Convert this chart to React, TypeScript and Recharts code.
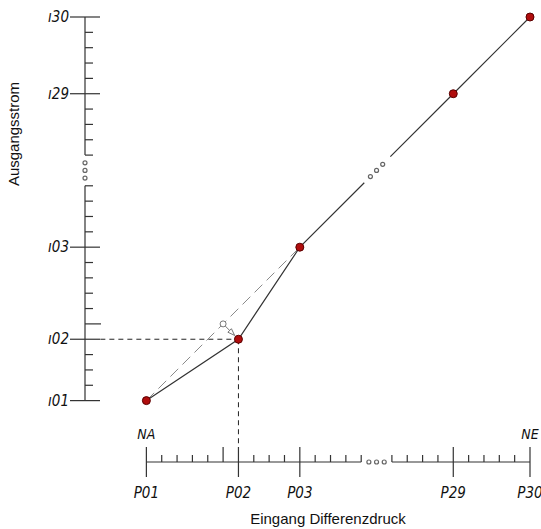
import { ComposedChart, Line, Scatter, XAxis, YAxis } from 'recharts';

// Schematic: Eingang Differenzdruck (P01..P30) -> Ausgangsstrom (ı01..ı30)
const xMajorTicks = [0, 6, 10, 20, 25];
const xMajorLabels = ['P01', 'P02', 'P03', 'P29', 'P30'];
const yMajorTicks = [0, 4, 10, 20, 25];
const yMajorLabels = ['ı01', 'ı02', 'ı03', 'ı29', 'ı30'];
const scaleTicks = [0, 1, 2, 3, 4, 5, 6, 7, 8, 9, 10, 11, 12, 13, 14, 16, 17, 18, 19, 20, 21, 22, 23, 24, 25];
const longTicks = [5];
const rangeStart = 'NA';
const rangeEnd = 'NE';

const curvePoints = [
  { x: 0, y: 0 },
  { x: 6, y: 4 },
  { x: 10, y: 10 },
  { x: 20, y: 20 },
  { x: 25, y: 25 },
];
// curve with a break in the middle (between P03 and P29)
const curveLine = [
  { x: 0, y: 0 },
  { x: 6, y: 4 },
  { x: 10, y: 10 },
  { x: 14.2, y: 14.2 },
  { x: 15, y: null },
  { x: 15.9, y: 15.9 },
  { x: 20, y: 20 },
  { x: 25, y: 25 },
];
const linearLine = [
  { x: 0, y: 0 },
  { x: 10, y: 10 },
];
const dropH = [
  { x: -3, y: 4 },
  { x: 6, y: 4 },
];
const dropV = [
  { x: 6, y: 4 },
  { x: 6, y: -3 },
];
const deviationArrow = [
  { x: 5, y: 5 },
  { x: 5.75, y: 4.25 },
];
const curveGapDots = [
  { x: 14.6, y: 14.6 },
  { x: 15, y: 15 },
  { x: 15.4, y: 15.4 },
];
const yAxisLine = [
  { x: -4, y: 0 },
  { x: -4, y: 14 },
  { x: -4, y: null },
  { x: -4, y: 16 },
  { x: -4, y: 25 },
];
const xAxisLine = [
  { x: 0, y: -4 },
  { x: 14, y: -4 },
  { x: 15, y: null },
  { x: 16, y: -4 },
  { x: 25, y: -4 },
];
const axisGapDots = [
  { x: -4, y: 14.5 },
  { x: -4, y: 15 },
  { x: -4, y: 15.5 },
  { x: 14.5, y: -4 },
  { x: 15, y: -4 },
  { x: 15.5, y: -4 },
];

const INK = '#333';
const labelFont = "'Liberation Sans Narrow', 'DejaVu Sans Condensed', 'Liberation Sans', sans-serif";

function YTick(props: any) {
  const { x, y, payload } = props;
  const i = yMajorTicks.indexOf(payload.value);
  if (i >= 0) {
    return (
      <g>
        <line x1={x - 15} x2={x + 15} y1={y} y2={y} stroke={INK} strokeWidth={1.2} />
        <text x={x - 16} y={y + 5} textAnchor="end" fontFamily={labelFont} fontStyle="italic" fontSize={15} fill="#111">
          {yMajorLabels[i]}
        </text>
      </g>
    );
  }
  const len = longTicks.includes(payload.value) ? 16 : 8;
  return <line x1={x} x2={x + len} y1={y} y2={y} stroke={INK} strokeWidth={1.2} />;
}

function XTick(props: any) {
  const { x, y, payload } = props;
  const i = xMajorTicks.indexOf(payload.value);
  if (i >= 0) {
    const first = i === 0;
    const last = i === xMajorTicks.length - 1;
    return (
      <g>
        <line x1={x} x2={x} y1={y - 15} y2={y + 15} stroke={INK} strokeWidth={1.2} />
        <text x={x} y={y + 36} textAnchor="middle" fontFamily={labelFont} fontStyle="italic" fontSize={15} fill="#111">
          {xMajorLabels[i]}
        </text>
        {(first || last) && (
          <text x={x} y={y - 23} textAnchor="middle" fontFamily={labelFont} fontStyle="italic" fontSize={14} fill="#111">
            {first ? rangeStart : rangeEnd}
          </text>
        )}
      </g>
    );
  }
  const len = longTicks.includes(payload.value) ? 15 : 7;
  return <line x1={x} x2={x} y1={y - len} y2={y} stroke={INK} strokeWidth={1.2} />;
}

const redDot = (p: any) => <circle cx={p.cx} cy={p.cy} r={4} fill="#b00d0d" stroke="#5a0000" strokeWidth={1} />;
const smallDot = (p: any) => <circle cx={p.cx} cy={p.cy} r={2} fill="#fff" stroke="#666" strokeWidth={1.2} />;

function arrowDot(p: any) {
  const { cx, cy, index } = p;
  if (index === 0) {
    return <circle key="a0" cx={cx} cy={cy} r={3} fill="#fff" stroke="#777" strokeWidth={1} />;
  }
  // open arrow head pointing down-right towards the P02 point
  const d = 0.7071;
  const bx = cx - 7 * d;
  const by = cy - 7 * d;
  const pts = `${cx},${cy} ${bx - 2.5 * d},${by + 2.5 * d} ${bx + 2.5 * d},${by - 2.5 * d}`;
  return <polygon key="a1" points={pts} fill="#fff" stroke="#777" strokeWidth={1} />;
}

export default function App() {
  return (
    <div style={{ position: 'absolute', left: 0, top: 0, width: 541, height: 529, overflow: 'hidden', background: '#fff' }}>
      <ComposedChart width={541} height={529} margin={{ top: 17, right: 11, left: 0, bottom: 0 }}>
        <XAxis
          type="number"
          dataKey="x"
          domain={[-4, 25]}
          ticks={scaleTicks}
          interval={0}
          tick={<XTick />}
          tickLine={false}
          axisLine={false}
          tickSize={0}
          tickMargin={0}
          height={67}
          label={{
            content: (p: any) => (
              <text
                x={p.viewBox.x + 243}
                y={p.viewBox.y + 62}
                textAnchor="middle"
                fontFamily="'Liberation Sans', Arial, sans-serif"
                fontSize={15}
                fill="#111"
              >
                Eingang Differenzdruck
              </text>
            ),
          }}
        />
        <YAxis
          type="number"
          dataKey="y"
          domain={[-4, 25]}
          ticks={scaleTicks}
          interval={0}
          tick={<YTick />}
          tickLine={false}
          axisLine={false}
          tickSize={0}
          tickMargin={0}
          width={85}
          label={{
            content: (p: any) => (
              <text
                x={p.viewBox.x + 19}
                y={p.viewBox.y + 117}
                transform={`rotate(-90 ${p.viewBox.x + 19} ${p.viewBox.y + 117})`}
                textAnchor="middle"
                fontFamily="'Liberation Sans', Arial, sans-serif"
                fontSize={15}
                fill="#111"
              >
                Ausgangsstrom
              </text>
            ),
          }}
        />

        <Line data={yAxisLine} dataKey="y" stroke={INK} strokeWidth={1.2} dot={false} isAnimationActive={false} />
        <Line data={xAxisLine} dataKey="y" stroke={INK} strokeWidth={1.2} dot={false} isAnimationActive={false} />

        <Line data={dropH} dataKey="y" stroke="#222" strokeWidth={1} strokeDasharray="5 4" dot={false} isAnimationActive={false} />
        <Line data={dropV} dataKey="y" stroke="#222" strokeWidth={1} strokeDasharray="5 4" dot={false} isAnimationActive={false} />
        <Line data={linearLine} dataKey="y" stroke="#8a8a8a" strokeWidth={1} strokeDasharray="11 6" dot={false} isAnimationActive={false} />
        <Line data={curveLine} dataKey="y" stroke={INK} strokeWidth={1.2} dot={false} isAnimationActive={false} />
        <Line data={deviationArrow} dataKey="y" stroke="#777" strokeWidth={1} dot={arrowDot} isAnimationActive={false} />

        <Scatter data={curveGapDots} shape={smallDot} isAnimationActive={false} />
        <Scatter data={axisGapDots} shape={smallDot} isAnimationActive={false} />
        <Scatter data={curvePoints} shape={redDot} isAnimationActive={false} />
      </ComposedChart>
    </div>
  );
}
